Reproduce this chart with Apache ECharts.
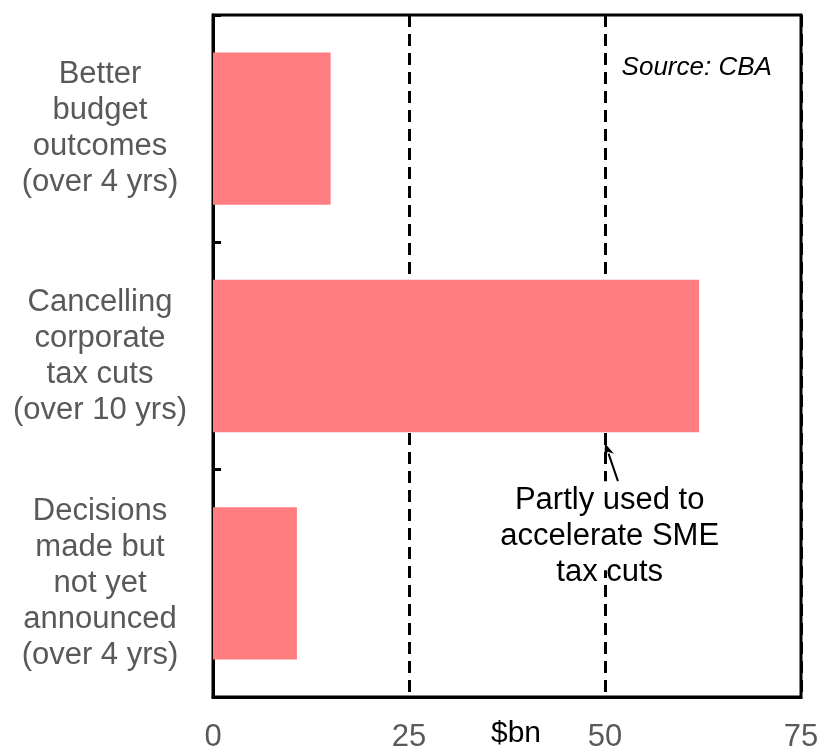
<!DOCTYPE html>
<html>
<head>
<meta charset="utf-8">
<script src="https://cdn.jsdelivr.net/npm/echarts@6/dist/echarts.min.js"></script>
<style>
  html, body { margin: 0; padding: 0; background: #fff; }
  #chart { width: 820px; height: 746px; }
</style>
</head>
<body>
<div id="chart"></div>
<script>
// Budget savings sources, $bn
const categories = [
  'Better\nbudget\noutcomes\n(over 4 yrs)',
  'Cancelling\ncorporate\ntax cuts\n(over 10 yrs)',
  'Decisions\nmade but\nnot yet\nannounced\n(over 4 yrs)'
];
const values = [15, 62, 10.7];
const xTicks = [0, 25, 50, 75];
const sourceNote = 'Source: CBA';
const annotationText = 'Partly used to\naccelerate SME\ntax cuts';
const annotationTarget = { category: 1, value: 50 };   // arrow points under this bar at $50bn
const annotationTail = 51.65;

const FONT = '"Liberation Sans", Arial, sans-serif';
const chart = echarts.init(document.getElementById('chart'), null, { renderer: 'canvas' });

chart.setOption({
  animation: false,
  grid: {
    left: 213, right: 19, top: 15, bottom: 49,
    outerBoundsMode: 'none', containLabel: false,
    show: true, borderColor: '#000', borderWidth: 3, backgroundColor: 'transparent'
  },
  xAxis: {
    type: 'value',
    min: xTicks[0], max: xTicks[xTicks.length - 1], interval: 25,
    axisLine: { show: true, lineStyle: { color: '#000', width: 3 } },
    axisTick: { show: false },
    splitLine: {
      show: true,
      lineStyle: { color: '#000', width: 3, type: [12, 7] }
    },
    axisLabel: {
      color: '#595959', fontFamily: FONT, fontSize: 31, margin: 25,
      showMinLabel: true, showMaxLabel: true
    },
    name: '$bn',
    nameLocation: 'middle',
    nameGap: 22,
    nameMoveOverlap: false,
    nameTextStyle: { color: '#000', fontFamily: FONT, fontSize: 30, padding: [0, 0, 0, 18] }
  },
  yAxis: {
    type: 'category',
    data: categories,
    inverse: true,
    axisLine: { show: true, lineStyle: { color: '#000', width: 3 } },
    axisTick: { show: true, inside: true, length: 8, lineStyle: { color: '#000', width: 3 } },
    splitLine: { show: false },
    axisLabel: {
      color: '#595959', fontFamily: FONT, fontSize: 31, lineHeight: 36,
      align: 'center', margin: 113, interval: 0, padding: [7, 0, 0, 0]
    }
  },
  series: [{
    type: 'bar',
    data: values,
    barWidth: '67%',
    itemStyle: { color: '#FF7C80' },
    z: 3
  }]
});

// Annotation: note text on a white box, arrow, and source line placed from axis coordinates
function drawAnnotations() {
  const yCenter = chart.convertToPixel({ yAxisIndex: 0 }, annotationTarget.category);
  const band = chart.convertToPixel({ yAxisIndex: 0 }, 2) - yCenter;
  const barHalf = band * 0.67 / 2;
  const tipX = chart.convertToPixel({ xAxisIndex: 0 }, annotationTarget.value);
  const tipY = yCenter + barHalf + 11;
  const tailX = chart.convertToPixel({ xAxisIndex: 0 }, annotationTail);
  const tailY = tipY + 38;

  const dx = tipX - tailX, dy = tipY - tailY;
  const len = Math.sqrt(dx * dx + dy * dy);
  const ux = dx / len, uy = dy / len;
  const headLen = 13, headW = 5;
  const bx = tipX - ux * headLen, by = tipY - uy * headLen;
  const px = -uy, py = ux;

  const textX = chart.convertToPixel({ xAxisIndex: 0 }, 50.6);
  const srcX = chart.convertToPixel({ xAxisIndex: 0 }, 61.7);
  const top = chart.convertToPixel({ yAxisIndex: 0 }, 0) - band / 2;

  chart.setOption({
    graphic: [
      {
        type: 'rect', z: 9,
        shape: { x: textX - 112, y: tailY, width: 224, height: 89 },
        style: { fill: '#fff' }
      },
      {
        type: 'line', z: 10,
        shape: { x1: tailX, y1: tailY, x2: bx + ux * 2, y2: by + uy * 2 },
        style: { stroke: '#000', lineWidth: 2 }
      },
      {
        type: 'polygon', z: 10,
        shape: { points: [[tipX, tipY], [bx + px * headW, by + py * headW], [bx + ux * 4, by + uy * 4], [bx - px * headW, by - py * headW]] },
        style: { fill: '#000' }
      },
      {
        type: 'text', z: 10,
        x: textX, y: tailY + 1,
        style: {
          text: annotationText, fill: '#000', font: '31px ' + FONT,
          align: 'center', verticalAlign: 'top', lineHeight: 36
        }
      },
      {
        type: 'text', z: 10,
        x: srcX, y: top + 53,
        style: {
          text: sourceNote, fill: '#000', font: 'italic 26px ' + FONT,
          align: 'center', verticalAlign: 'middle'
        }
      }
    ]
  });
}
drawAnnotations();
</script>
</body>
</html>
